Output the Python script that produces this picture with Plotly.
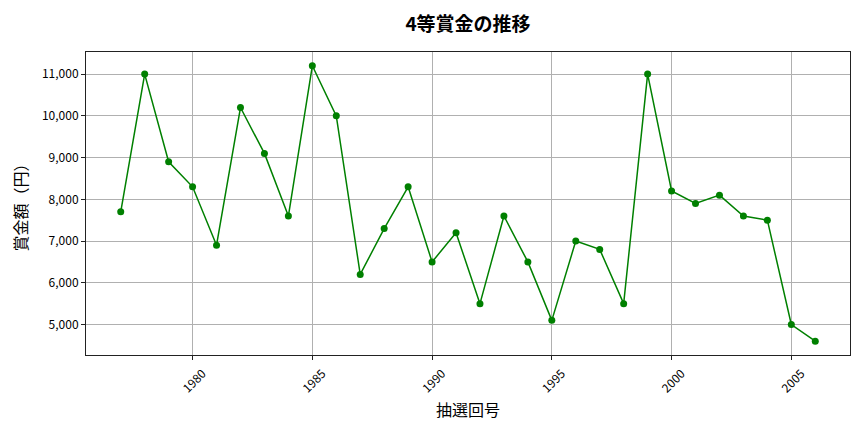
import plotly.graph_objects as go

years = list(range(1977, 2007))
prizes = [7700, 11000, 8900, 8300, 6900, 10200, 9100, 7600, 11200, 10000,
          6200, 7300, 8300, 6500, 7200, 5500, 7600, 6500, 5100, 7000,
          6800, 5500, 11000, 8200, 7900, 8100, 7600, 7500, 5000, 4600]
x_ticks = [1980, 1985, 1990, 1995, 2000, 2005]
y_ticks = [5000, 6000, 7000, 8000, 9000, 10000, 11000]

FONT = "Noto Sans CJK JP"

fig = go.Figure(go.Scatter(
    x=years, y=prizes, mode="lines+markers",
    line=dict(color="green", width=1.5),
    marker=dict(color="green", size=7),
))

fig.update_layout(
    width=864, height=432,
    margin=dict(l=78, r=22, t=44, b=85, autoexpand=False),
    paper_bgcolor="white", plot_bgcolor="white",
    font=dict(family=FONT, color="black", size=12),
    title=dict(text="<b>4等賞金の推移</b>", xref="paper", x=0.5, xanchor="center",
               y=1 - 16/432, yanchor="middle", font=dict(size=19, family=FONT)),
    showlegend=False,
)
fig.update_xaxes(
    range=[1975.55, 2007.45], tickvals=x_ticks, tickangle=-45,
    ticklabelshift=10, ticklabelstandoff=2,
    automargin=False,
    showgrid=True, gridcolor="#b0b0b0", gridwidth=1,
    showline=True, linecolor="#222", linewidth=1, mirror=True,
    ticks="outside", ticklen=4, tickcolor="#222",
    title=dict(text="抽選回号", font=dict(size=16, family=FONT), standoff=10),
    zeroline=False,
)
fig.update_yaxes(
    range=[4270, 11530], tickvals=y_ticks, tickformat=",d",
    automargin=False,
    showgrid=True, gridcolor="#b0b0b0", gridwidth=1,
    showline=True, linecolor="#222", linewidth=1, mirror=True,
    ticks="outside", ticklen=4, tickcolor="#222",
    title=dict(text="賞金額（円）", font=dict(size=16, family=FONT), standoff=10),
    zeroline=False,
)

fig.write_html("out.html")
